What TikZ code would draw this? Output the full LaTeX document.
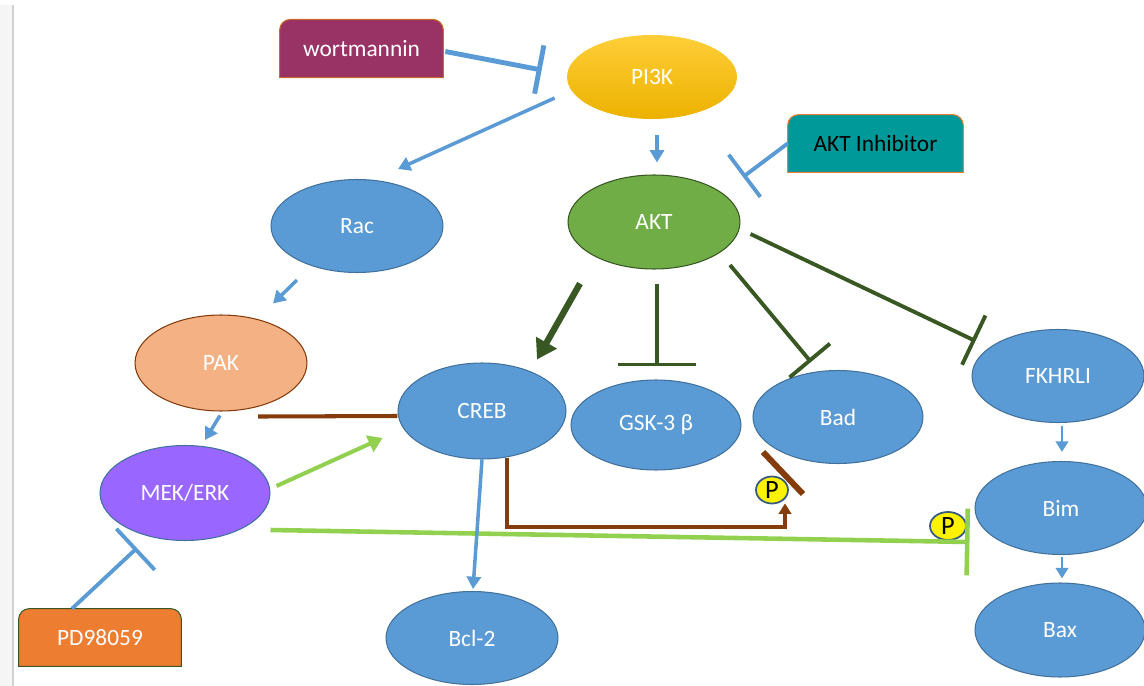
\documentclass[tikz,border=0pt]{standalone}
\usepackage{fontspec}
\setmainfont{Carlito}
\usetikzlibrary{arrows.meta,positioning,calc,shapes.geometric,backgrounds}
\definecolor{nodeblue}{RGB}{91,155,213}
\definecolor{edgeblue}{RGB}{65,113,156}
\definecolor{aktgreen}{RGB}{112,173,71}
\definecolor{darkgreen}{RGB}{56,87,35}
\definecolor{lightgreen}{RGB}{146,208,80}
\definecolor{rust}{RGB}{132,60,12}
\definecolor{peach}{RGB}{244,177,131}
\definecolor{lilac}{RGB}{153,102,255}
\definecolor{plum}{RGB}{153,51,102}
\definecolor{tealbox}{RGB}{0,153,153}
\definecolor{orange}{RGB}{237,125,49}
\definecolor{goldtop}{RGB}{255,206,56}
\definecolor{goldbot}{RGB}{236,178,0}

\begin{document}
\begin{tikzpicture}[x=0.02cm,y=-0.02cm,
    every node/.style={font=\fontsize{13.3}{16}\selectfont},
    mol/.style={ellipse,draw=edgeblue,line width=0.6pt,fill=nodeblue,text=white,
      inner sep=0pt,minimum width=3.44cm,minimum height=1.86cm},
    drug/.style={inner sep=0pt,minimum height=1.15cm},
    phos/.style={ellipse,draw=edgeblue!80!black,line width=1pt,fill=yellow,inner sep=0pt,
      minimum width=0.64cm,minimum height=0.54cm,font=\fontsize{15}{16}\selectfont},
    act/.style={line width=2pt,-{Triangle[length=7pt,width=8pt]}},
    inh/.style={line width=2.2pt,-{Bar[width=#1]}}]
    \useasboundingbox (0,0) rectangle (1144,686);
    \fill[black!4] (0,5) rectangle (13,686);
    \draw[black!18,line width=0.8pt] (13,5)--(13,686);

    % molecules
    \node[ellipse,inner sep=0pt,minimum width=3.4cm,minimum height=1.68cm,top color=goldtop,
      bottom color=goldbot,text=white] (pi3k) at (652,77) {PI3K};
    \node[mol,fill=aktgreen,draw=darkgreen,minimum height=1.88cm] (akt) at (654,222) {AKT};
    \node[mol] (rac) at (357,226) {Rac};
    \node[mol,fill=peach,draw=rust,minimum height=1.92cm] (pak) at (221,363) {PAK};
    \node[mol,minimum width=3.36cm,minimum height=1.92cm] (creb) at (482,411) {CREB};
    \node[mol,minimum width=3.4cm,minimum height=1.8cm] (gsk) at (656,425) {GSK-3 β};
    \node[mol,minimum width=3.4cm] (bad) at (838,417) {Bad};
    \node[mol] (fkh) at (1058,376) {FKHRLI};
    \node[mol,fill=lilac,minimum width=3.4cm,minimum height=1.9cm] (mek) at (185,493) {MEK/ERK};
    \node[mol] (bim) at (1061,508) {Bim};
    \node[mol,minimum width=3.4cm,minimum height=1.88cm] (bax) at (1060,630) {Bax};
    \node[mol] (bcl) at (472,638) {Bcl-2};

    % inhibitors
    \node[drug,minimum width=3.26cm,text=white] (wort) at (361.5,48.5) {wortmannin};
    \node[drug,minimum width=3.5cm,minimum height=1.14cm] (akti) at (875.5,143.5) {AKT Inhibitor};
    \node[drug,minimum width=3.24cm,minimum height=1.14cm,text=white] (pd) at (100,637.5) {PD98059};
    \begin{scope}[on background layer]
      \draw[fill=plum,draw=orange!85!black,line width=0.6pt] (wort.south west) [rounded corners=6pt]
        -- (wort.north west) -- (wort.north east) [sharp corners] -- (wort.south east) -- cycle;
      \draw[fill=tealbox,draw=orange,line width=0.6pt] (akti.south west) [rounded corners=6pt]
        -- (akti.north west) -- (akti.north east) [sharp corners] -- (akti.south east) -- cycle;
      \draw[fill=orange,draw=darkgreen,line width=0.6pt] (pd.south west) [rounded corners=6pt]
        -- (pd.north west) -- (pd.north east) [sharp corners] -- (pd.south east) -- cycle;
    \end{scope}

    % phosphorylation marks
    \node[phos] (p1) at (772,490) {P};
    \node[phos,minimum width=0.72cm,minimum height=0.56cm] (p2) at (948,526) {P};

    % PI3K / AKT branch
    \draw[nodeblue,inh=28pt,line width=2.8pt] ($(wort.east)+(2,3)$) -- ($(pi3k.west)+(-25,-7)$);
    \draw[nodeblue,act] ($(pi3k.west)+(-12,21)$) -- ($(rac.north)+(41,-10)$);
    \draw[nodeblue,act] ($(pi3k.south)+(5,16)$) -- ($(akt.north)+(3,-12)$);
    \draw[nodeblue,inh=30pt] (akti.west) -- ($(akt)+(89,-45)$);
    \draw[darkgreen,line width=3.6pt,-{Triangle[length=11pt,width=13pt]}]
      ($(akt.south)+(-74,14)$) -- ($(creb.north)+(55,-3)$);
    \draw[darkgreen,inh=44pt] ($(akt.south)+(3,14)$) -- ($(gsk.north)+(1,-13)$);
    \draw[darkgreen,inh=30pt] ($(akt)+(76,43)$) -- ($(bad.north)+(-27,-8)$);
    \draw[darkgreen,inh=31pt] ($(akt.east)+(10,12)$) -- ($(fkh.west)+(4,-35)$);

    % Rac / PAK / MEK branch
    \draw[nodeblue,act] ($(rac.south)+(-60,7)$) -- ($(pak.north)+(52,-11)$);
    \draw[nodeblue,act] ($(pak.south)+(-1,4)$) -- ($(mek.north)+(20,-5)$);
    \draw[rust,line width=2.3pt] ($(pak.south)+(37,5)$) -- ($(creb.west)+(0,5)$);
    \draw[lightgreen,line width=2.3pt,-{Triangle[length=8pt,width=10pt]}]
      ($(mek.east)+(6,-7)$) -- ($(creb.west)+(-15,27)$);
    \draw[lightgreen,inh=38pt,line width=2.6pt] ($(mek.east)+(0,37)$) -- ($(bim.west)+(-5,34)$);
    \draw[nodeblue,inh=32pt] ($(pd.north)+(-28,0)$) -- ($(mek.south)+(-48,7)$);

    % CREB targets
    \draw[nodeblue,act] (creb.south) -- ($(bcl.north)+(1,-2)$);
    \coordinate (turn) at (785,527);
    \draw[rust,line width=2.3pt,-{Triangle[length=6pt,width=7pt]}]
      ($(creb.south)+(25,-2)$) |- (turn) -- ($(p1.south)+(13,-1)$);
    \draw[rust,line width=3.4pt] ($(bad)+(-75,35)$) -- ($(bad)+(-35,77)$);

    % FKHRLI chain
    \draw[nodeblue,line width=1.6pt,-{Triangle[length=6pt,width=7pt]}] ($(fkh.south)+(4,3)$) -- ($(bim.north)+(1,-9)$);
    \draw[nodeblue,line width=1.6pt,-{Triangle[length=6pt,width=7pt]}] ($(bim.south)+(1,2)$) -- ($(bax.north)+(2,-4)$);
  \end{tikzpicture}
\end{document}
